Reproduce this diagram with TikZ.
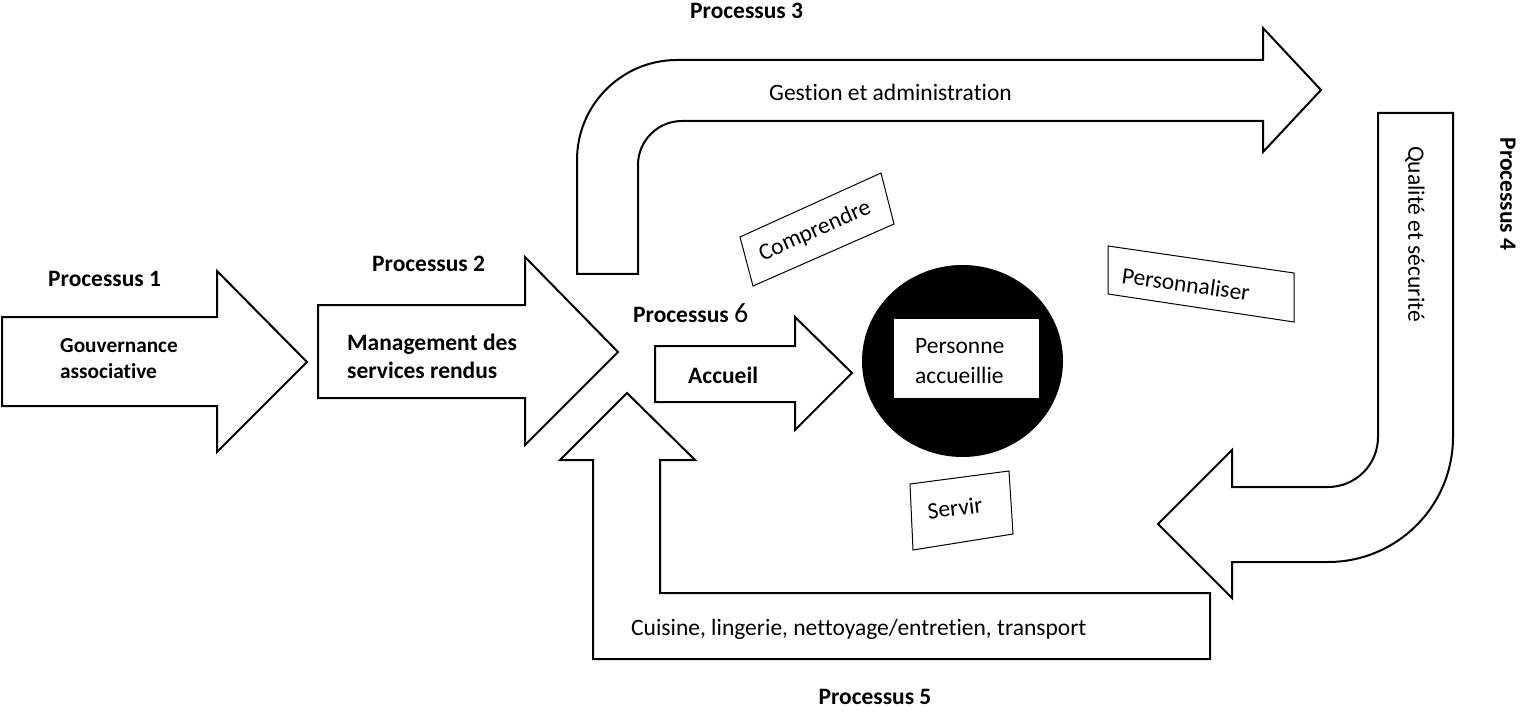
\documentclass[tikz,border=0pt]{standalone}
\usepackage{fontspec}
\setmainfont[Ligatures=NoCommon]{Carlito}
\begin{document}
\begin{tikzpicture}[x=1pt,y=-1pt,
  blockarrow/.style={draw=black, line width=2pt, fill=white, line join=miter},
  tiltbox/.style={draw=black, line width=1pt},
  boldlbl/.style={font=\fontsize{23.5}{27}\selectfont\bfseries, inner sep=0pt},
  smallbold/.style={font=\fontsize{21.3}{26}\selectfont\bfseries, inner sep=0pt},
  plain/.style={font=\fontsize{23.5}{30}\selectfont, inner sep=0pt}]
\useasboundingbox (0,0) rectangle (1524,714);

% Processus 1 arrow
\draw[blockarrow] (2,317) -- (217,317) -- (217,271) -- (307,362) -- (217,452) -- (217,406) -- (2,406) -- cycle;
% Processus 2 arrow
\draw[blockarrow] (318,305) -- (525,305) -- (525,257) -- (618,352) -- (525,445) -- (525,398) -- (318,398) -- cycle;
% Accueil arrow
\draw[blockarrow] (655,346) -- (795,346) -- (795,317) -- (852,373) -- (795,430) -- (795,402) -- (655,402) -- cycle;
% Processus 3 bent arrow
\draw[blockarrow] (577,274) -- (577,160) arc[start angle=180,end angle=270,radius=100]
  -- (1263,60) -- (1263,28) -- (1321,90) -- (1263,152) -- (1263,121) -- (682,121)
  arc[start angle=270,end angle=180,radius=44] -- (638,274) -- cycle;
% Processus 4 bent arrow
\draw[blockarrow] (1378,113) -- (1453,113) -- (1453,437) arc[start angle=0,end angle=90,radius=125]
  -- (1232,562) -- (1232,598) -- (1158,524) -- (1232,450) -- (1232,487) -- (1328,487)
  arc[start angle=90,end angle=0,radius=50] -- cycle;
% Processus 5 arrow
\draw[blockarrow] (593,659) -- (593,460) -- (560,460) -- (627,393) -- (695,460) -- (660,460)
  -- (660,593) -- (1210,593) -- (1210,659) -- cycle;

% Person circle
\fill[black] (962.5,361) ellipse [x radius=100.5, y radius=96];
\fill[white] (894,319) rectangle (1039,398);

% tilted boxes
\draw[tiltbox, fill=white] (740,237) -- (881,173) -- (894,224) -- (753,286) -- cycle;
\draw[tiltbox, fill=white] (1108,246) -- (1294,273) -- (1294,322) -- (1108,294) -- cycle;
\draw[tiltbox, fill=white] (910,484) -- (1009,471) -- (1013,534) -- (913,550) -- cycle;

% labels
\node[boldlbl, anchor=base west] (p1) at (48,287) {Processus 1};
\node[boldlbl, anchor=base west] (p2) at (372,272) {Processus 2};
\node[boldlbl, anchor=base west] (p3) at (690,19) {Processus 3};
\node[boldlbl, anchor=base west] (p6) at (633,322) {Processus \textmd{\fontsize{28}{30}\selectfont 6}};
\node[boldlbl, rotate=-90] (p4) at (1508,194) {Processus 4};
\node[boldlbl] (p5) at (875,697) {Processus 5};

\node[smallbold, anchor=base west] (gov1) at (60,352) {Gouvernance};
\node[smallbold, anchor=base west] (gov2) at (60,378) {associative};
\node[boldlbl, anchor=base west] (man1) at (347,350) {Management des};
\node[boldlbl, anchor=base west] (man2) at (347,378) {services rendus};
\node[boldlbl, anchor=base west] (acc) at (688,383) {Accueil};

\node[plain, anchor=base west] (gest) at (769,101) {Gestion et administration};
\node[plain, rotate=-90] (qual) at (1415,234) {Qualité et sécurité};
\node[plain, anchor=base west] (cuis) at (631,635) {Cuisine, lingerie, nettoyage/entretien, transport};
\node[plain, anchor=base west] (pers1) at (915,353) {Personne};
\node[plain, anchor=base west] (pers2) at (915,383) {accueillie};

\node[plain, rotate=24] (comp) at (815,231) {Comprendre};
\node[plain, rotate=-8] (perso) at (1186,284) {Personnaliser};
\node[plain, rotate=7] (serv) at (955,508) {Servir};
\end{tikzpicture}
\end{document}
